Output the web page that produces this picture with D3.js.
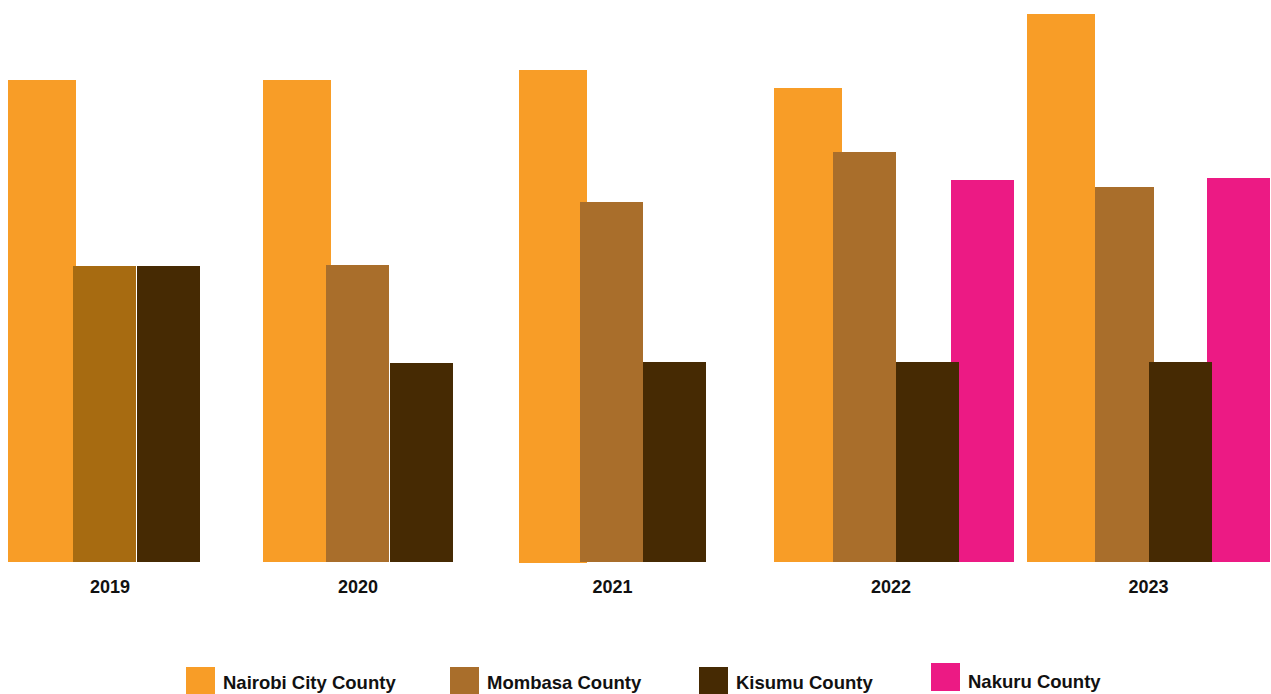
<!DOCTYPE html>
<html><head><meta charset="utf-8">
<script src="https://cdn.jsdelivr.net/npm/d3@7"></script>
<style>html,body{margin:0;padding:0;background:#fff;overflow:hidden}</style>
</head><body>
<svg id="c" width="1271" height="694"></svg>
<script>
const years = ["2019","2020","2021","2022","2023"];
const seriesNames = ["Nairobi City County","Mombasa County","Kisumu County","Nakuru County"];
const nairobi = [482, 482, 492, 474, 548];
const mombasa = [296, 297, 360, 410, 375];
const kisumu  = [296, 199, 200, 200, 200];
const nakuru  = [null, null, null, 382, 384];
const seriesValues = [nairobi, mombasa, kisumu, nakuru];

// layout (styling), kept apart from the data
const colors = ["#F89D27", "#A96E2B", "#462A03", "#EC1A84"];
const layoutOffsets = [
  [0, 0, 1, 1, -1],        // Nairobi
  [65, 63, 62, 60, 67],    // Mombasa
  [129, 127, 125, 123, 121], // Kisumu
  [0, 0, 0, 178, 179]      // Nakuru
];
const layoutWidths = [
  [68, 68, 68, 68, 68],
  [63, 63, 63, 63, 59],
  [63, 63, 63, 63, 63],
  [63, 63, 63, 63, 63]
];
const drawOrder = [0, 1, 3, 2];

const svg = d3.select("#c");
const x = d3.scaleBand().domain(years).range([8, 8 + 255 * 5]).paddingInner(0).paddingOuter(0);
const y = d3.scaleLinear().domain([0, 550]).range([562, 12]);

const bars = [];
drawOrder.forEach(si => {
  seriesValues[si].forEach((v, yi) => {
    if (v == null) return;
    bars.push({si, yi, year: years[yi], v});
  });
});

svg.append("g").selectAll("rect").data(bars).join("rect")
  .attr("x", d => x(d.year) + layoutOffsets[d.si][d.yi])
  .attr("width", d => layoutWidths[d.si][d.yi])
  .attr("y", d => y(d.v))
  .attr("height", d => y(0) - y(d.v) + ((d.si === 0 && d.yi === 2) ? 1 : 0))
  .attr("fill", d => (d.si === 1 && d.yi === 0) ? "#A76B11" : colors[d.si]);

// year labels centered on each group's drawn bars
years.forEach((yr, yi) => {
  const present = seriesValues.map((vals, si) => vals[yi] != null ? si : -1).filter(s => s >= 0);
  const left = x(yr) + d3.min(present, s => layoutOffsets[s][yi]);
  const right = x(yr) + d3.max(present, s => layoutOffsets[s][yi] + layoutWidths[s][yi]);
  svg.append("text")
    .attr("x", (left + right) / 2 + (yi === 0 ? 6 : yi === 3 ? -3 : 0))
    .attr("y", 593)
    .attr("text-anchor", "middle")
    .attr("font-family", "Liberation Sans, Arial, sans-serif")
    .attr("font-weight", "bold")
    .attr("font-size", 18)
    .attr("fill", "#111")
    .text(yr);
});

// legend
const legendX = [186, 450, 699, 931];
const lg = svg.append("g").selectAll("g").data(seriesNames).join("g")
  .attr("transform", (d, i) => `translate(${legendX[i]},${i === 3 ? 663 : 667})`);
lg.append("rect").attr("width", 29).attr("height", 28).attr("fill", (d, i) => colors[i]);
lg.append("text").attr("x", 37).attr("y", (d, i) => i === 3 ? 25 : 22)
  .attr("font-family", "Liberation Sans, Arial, sans-serif")
  .attr("font-weight", "bold").attr("font-size", 18.5).attr("fill", "#111")
  .text(d => d);
</script>
</body></html>
